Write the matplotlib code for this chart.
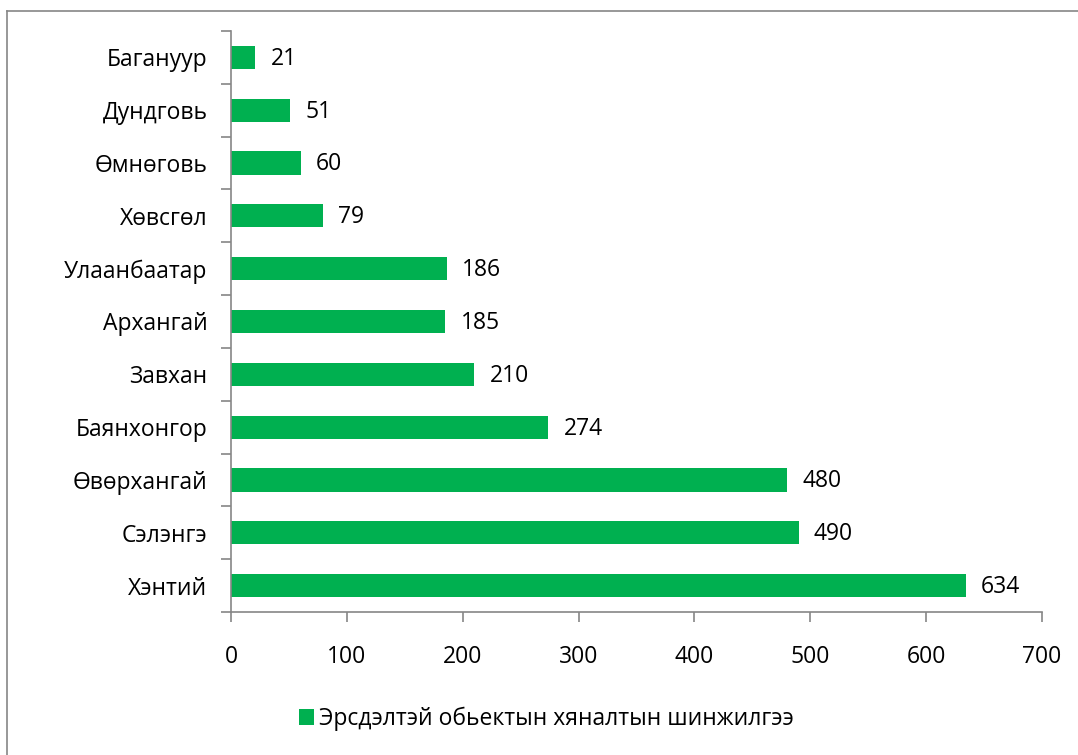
import matplotlib.pyplot as plt
from matplotlib.lines import Line2D

plt.rcParams['font.family'] = ['Open Sans', 'DejaVu Sans']

# Данные
regions = ['Хэнтий', 'Сэлэнгэ', 'Өвөрхангай', 'Баянхонгор', 'Завхан', 'Архангай',
           'Улаанбаатар', 'Хөвсгөл', 'Өмнөговь', 'Дундговь', 'Багануур']
counts = [634, 490, 480, 274, 210, 185, 186, 79, 60, 51, 21]
series_name = 'Эрсдэлтэй обьектын хяналтын шинжилгээ'

green = '#00B050'
grey = '#868686'
fs = 16.5

fig = plt.figure(figsize=(10.78, 7.55), dpi=100)
ax = fig.add_axes([0.2143, 0.1894, 0.7523, 0.7696])

y = range(len(regions))
bars = ax.barh(y, counts, height=0.44, color=green, label=series_name)

for yi, v in zip(y, counts):
    ax.annotate(str(v), (v, yi), xytext=(11, -1), textcoords='offset points',
                va='center', ha='left', fontsize=fs)

ax.set_xlim(0, 700)
ax.set_ylim(-0.5, len(regions) - 0.5)
ax.set_xticks(range(0, 701, 100))
ax.set_yticks(list(y))
ax.set_yticklabels(regions)
ax.set_yticks([i - 0.5 for i in range(len(regions) + 1)], minor=True)
ax.tick_params(axis='y', which='major', length=0, pad=17, labelsize=fs)
ax.tick_params(axis='y', which='minor', length=7, color=grey, width=1.2)
ax.tick_params(axis='x', length=7, color=grey, width=1.2, pad=17, labelsize=fs)

for s in ['top', 'right']:
    ax.spines[s].set_visible(False)
for s in ['left', 'bottom']:
    ax.spines[s].set_color(grey)
    ax.spines[s].set_linewidth(1.2)

fig.legend(handles=[bars], loc='center', bbox_to_anchor=(0.507, 0.048),
           frameon=False, fontsize=fs, handlelength=0.65, handleheight=0.65,
           handletextpad=0.25)

# рамка вокруг диаграммы
fx = 7 / 1078
fy = 1 - 11 / 755
fig.add_artist(Line2D([fx, fx], [0, fy], transform=fig.transFigure, color=grey, lw=1.2))
fig.add_artist(Line2D([fx, 1], [fy, fy], transform=fig.transFigure, color=grey, lw=1.2))

fig.savefig('out.png', dpi=100)
